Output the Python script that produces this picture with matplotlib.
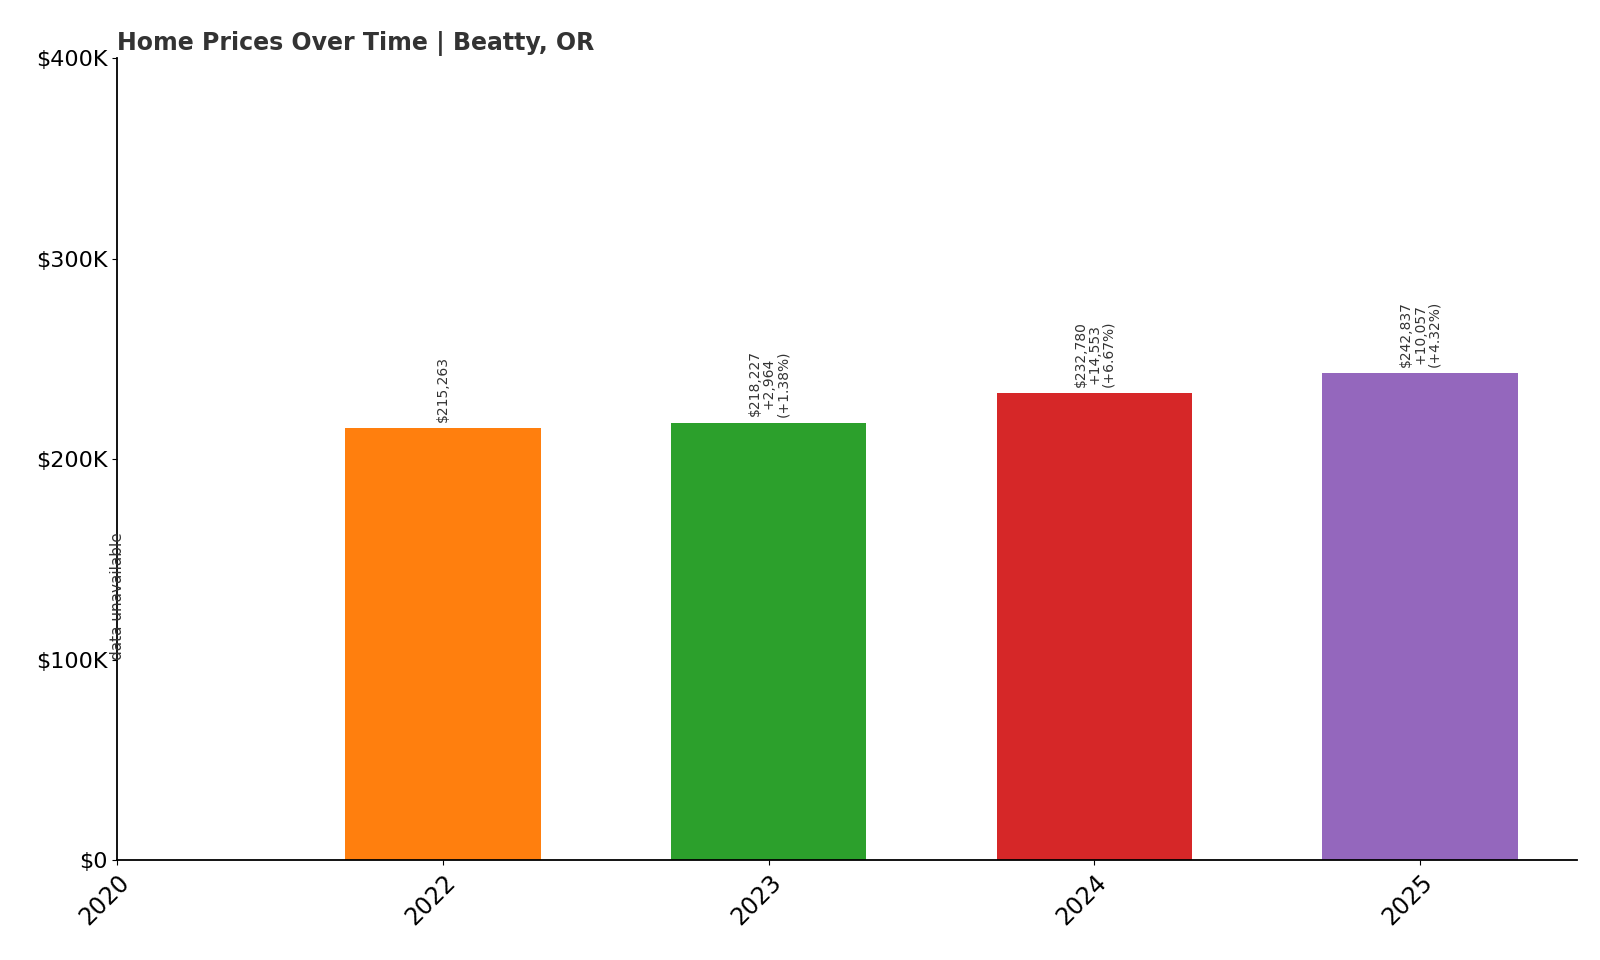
import matplotlib
matplotlib.use("Agg")
import matplotlib.pyplot as plt

years = ["2020", "2022", "2023", "2024", "2025"]
values = [None, 215263, 218227, 232780, 242837]
labels = [None, "$215,263", "$218,227\n+2,964\n(+1.38%)", "$232,780\n+14,553\n(+6.67%)", "$242,837\n+10,057\n(+4.32%)"]
colors = ["#1f77b4", "#ff7f0e", "#2ca02c", "#d62728", "#9467bd"]
yticks = [0, 100000, 200000, 300000, 400000]
ytick_labels = ["$0", "$100K", "$200K", "$300K", "$400K"]

W, H = 1568, 941
fig = plt.figure(figsize=(16, 9.6), dpi=100)
ax = fig.add_axes([115/W, 1-843/H, (1545-115)/W, (843-57)/H])

for i, (v, lab) in enumerate(zip(values, labels)):
    if v is None:
        ax.text(i, 100000, "data unavailable", rotation=90, ha="center", va="bottom",
                fontsize=11, color="#333333")
        continue
    ax.bar(i, v, width=0.6, color=colors[i])
    ax.text(i, v + 3000, lab, rotation=90, ha="center", va="bottom", fontsize=10,
            color="#333333", linespacing=1.0)

ax.set_xlim(0, 4.48)
ax.set_ylim(0, 400000)
ax.set_xticks(range(len(years)))
ax.set_xticklabels(years, rotation=45, ha="right", rotation_mode="anchor", fontsize=17)
ax.set_yticks(yticks)
ax.set_yticklabels(ytick_labels, fontsize=16)
for s in ["top", "right"]:
    ax.spines[s].set_visible(False)
ax.spines["left"].set_linewidth(1.3)
ax.spines["bottom"].set_linewidth(1.3)
ax.set_title("Home Prices Over Time | Beatty, OR", loc="left", fontsize=17,
             fontweight="bold", color="#333333", pad=6)
fig.savefig("out.png", dpi=100)
